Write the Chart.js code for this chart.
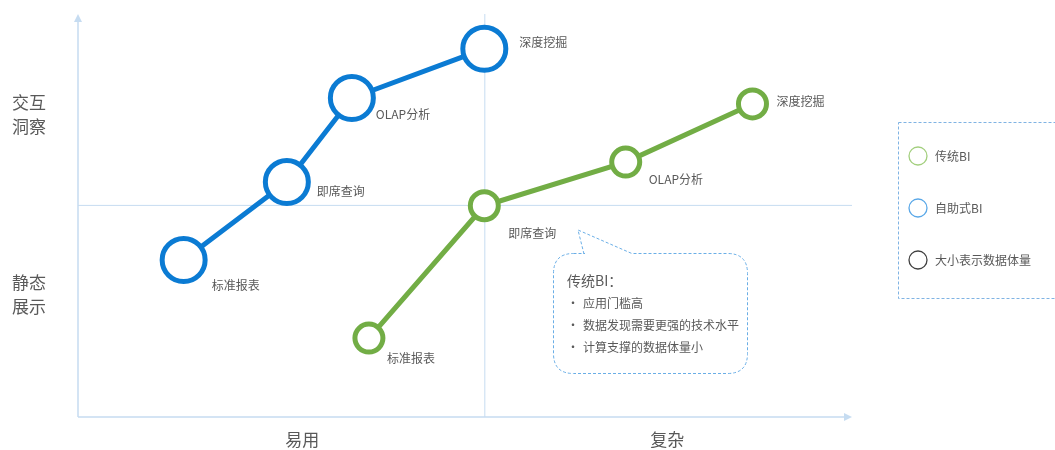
<!DOCTYPE html>
<html>
<head>
<meta charset="utf-8">
<script src="https://cdn.jsdelivr.net/npm/chart.js@4/dist/chart.umd.min.js"></script>
<style>
  html, body { margin: 0; padding: 0; background: #fff; }
  #wrap { width: 1055px; height: 450px; }
</style>
</head>
<body>
<div id="wrap"><canvas id="biChart" width="1055" height="450"></canvas></div>
<script>
'use strict';

// 阶段名称
var stages = ['标准报表', '即席查询', 'OLAP分析', '深度挖掘'];

// 自助式BI（蓝）
var selfX = [13.0, 25.7, 33.7, 50.0];
var selfY = [37.0, 55.4, 75.2, 86.8];

// 传统BI（绿）
var tradX = [35.8, 50.0, 67.4, 83.0];
var tradY = [18.6, 49.8, 60.1, 73.8];

// 象限标签
var xLabels = ['易用', '复杂'];
var xLabelPos = [27.6, 72.5];
var yLabels = [['静态', '展示'], ['交互', '洞察']];
var yLabelPos = [28.8, 71.2];
var midValue = 50;

var legendItems = ['传统BI', '自助式BI', '大小表示数据体量'];
var noteTitle = '传统BI：';
var noteItems = ['应用门槛高', '数据发现需要更强的技术水平', '计算支撑的数据体量小'];

var BLUE = '#0b7bd3';
var GREEN = '#72ad45';
var AXIS = '#c6dcf1';
var TEXT = '#595959';
var FONT = '"Noto Sans CJK SC", "Noto Sans", sans-serif';

function toPoints(xs, ys) {
  return xs.map(function (x, i) { return { x: x, y: ys[i] }; });
}

// ラベル位置（点からのずれ）
var selfLabelOffset = [[28, 25], [30, 9], [24, 16], [35, -6]];
var tradLabelOffset = [[18, 20], [24, 28], [23, 17], [24, -2]];

function arrow(ctx, x, y, dir) {
  ctx.beginPath();
  if (dir === 'up') {
    ctx.moveTo(x, y); ctx.lineTo(x - 4, y + 8); ctx.lineTo(x + 4, y + 8);
  } else {
    ctx.moveTo(x, y); ctx.lineTo(x - 8, y - 4); ctx.lineTo(x - 8, y + 4);
  }
  ctx.closePath();
  ctx.fill();
}

function roundRectPath(ctx, x, y, w, h, r) {
  ctx.moveTo(x + r, y);
  ctx.lineTo(x + w - r, y);
  ctx.quadraticCurveTo(x + w, y, x + w, y + r);
  ctx.lineTo(x + w, y + h - r);
  ctx.quadraticCurveTo(x + w, y + h, x + w - r, y + h);
  ctx.lineTo(x + r, y + h);
  ctx.quadraticCurveTo(x, y + h, x, y + h - r);
  ctx.lineTo(x, y + r);
  ctx.quadraticCurveTo(x, y, x + r, y);
}

var backgroundPlugin = {
  id: 'quadrants',
  beforeDatasetsDraw: function (chart) {
    var ctx = chart.ctx;
    var xs = chart.scales.x, ys = chart.scales.y;
    var a = chart.chartArea;
    var mx = xs.getPixelForValue(midValue);
    var my = ys.getPixelForValue(midValue);
    ctx.save();
    ctx.strokeStyle = AXIS;
    ctx.fillStyle = AXIS;
    // 中心線
    ctx.lineWidth = 1;
    ctx.beginPath();
    ctx.moveTo(mx + 0.5, a.top);
    ctx.lineTo(mx + 0.5, a.bottom);
    ctx.moveTo(a.left, my + 0.5);
    ctx.lineTo(a.right + 2, my + 0.5);
    ctx.stroke();
    // 軸
    ctx.lineWidth = 1.5;
    ctx.beginPath();
    ctx.moveTo(a.left, a.bottom);
    ctx.lineTo(a.left, a.top + 6);
    ctx.moveTo(a.left, a.bottom);
    ctx.lineTo(a.right - 4, a.bottom);
    ctx.stroke();
    arrow(ctx, a.left, a.top, 'up');
    arrow(ctx, a.right + 2, a.bottom, 'right');

    // 象限ラベル
    ctx.fillStyle = TEXT;
    ctx.font = '17px ' + FONT;
    ctx.textBaseline = 'middle';
    ctx.textAlign = 'center';
    xLabels.forEach(function (t, i) {
      ctx.fillText(t, xs.getPixelForValue(xLabelPos[i]), a.bottom + 23);
    });
    ctx.textAlign = 'left';
    yLabels.forEach(function (lines, i) {
      var cy = ys.getPixelForValue(yLabelPos[i]);
      ctx.fillText(lines[0], 12, cy - 12);
      ctx.fillText(lines[1], 12, cy + 12);
    });
    ctx.restore();
  },
  afterDatasetsDraw: function (chart) {
    var ctx = chart.ctx;
    ctx.save();
    ctx.fillStyle = TEXT;
    ctx.font = '12px ' + FONT;
    ctx.textBaseline = 'middle';
    ctx.textAlign = 'left';
    [selfLabelOffset, tradLabelOffset].forEach(function (offs, di) {
      var meta = chart.getDatasetMeta(di);
      meta.data.forEach(function (pt, i) {
        ctx.fillText(stages[i], pt.x + offs[i][0], pt.y + offs[i][1]);
      });
    });

    // 凡例ボックス
    ctx.strokeStyle = '#7fb3e3';
    ctx.lineWidth = 1;
    ctx.setLineDash([3, 2]);
    ctx.strokeRect(898.5, 122.5, 170, 176);
    ctx.setLineDash([]);
    var legendColors = ['#a3cf7e', '#5aa8e8', '#404040'];
    var legendY = [156, 208, 260];
    legendItems.forEach(function (t, i) {
      ctx.beginPath();
      ctx.strokeStyle = legendColors[i];
      ctx.lineWidth = 1.3;
      ctx.arc(918, legendY[i], 9, 0, Math.PI * 2);
      ctx.stroke();
      ctx.fillStyle = TEXT;
      ctx.fillText(t, 935, legendY[i]);
    });

    // 吹き出し
    ctx.strokeStyle = '#6aaee6';
    ctx.lineWidth = 1;
    ctx.setLineDash([3, 2]);
    ctx.beginPath();
    roundRectPath(ctx, 553.5, 253.5, 194, 120, 20);
    ctx.stroke();
    ctx.fillStyle = '#fff';
    ctx.fillRect(585, 251, 47, 5);
    ctx.beginPath();
    ctx.moveTo(584, 254);
    ctx.lineTo(578, 230);
    ctx.lineTo(633, 254);
    ctx.stroke();
    ctx.setLineDash([]);

    ctx.fillStyle = TEXT;
    ctx.font = '14px ' + FONT;
    ctx.fillText(noteTitle, 567, 281);
    ctx.font = '12px ' + FONT;
    noteItems.forEach(function (t, i) {
      var y = 303 + i * 22;
      ctx.fillText('•', 567, y);
      ctx.fillText(t, 583, y);
    });
    ctx.restore();
  }
};

var ctx = document.getElementById('biChart').getContext('2d');

var biChart = new Chart(ctx, {
  type: 'scatter',
  data: {
    datasets: [
      {
        label: '自助式BI',
        data: toPoints(selfX, selfY),
        showLine: true,
        borderColor: BLUE,
        borderWidth: 5,
        pointRadius: 21.5,
        pointHoverRadius: 21.5,
        pointBorderWidth: 5,
        pointBackgroundColor: '#fff',
        pointBorderColor: BLUE
      },
      {
        label: '传统BI',
        data: toPoints(tradX, tradY),
        showLine: true,
        borderColor: GREEN,
        borderWidth: 5,
        pointRadius: 14,
        pointHoverRadius: 14,
        pointBorderWidth: 5,
        pointBackgroundColor: '#fff',
        pointBorderColor: GREEN
      }
    ]
  },
  options: {
    responsive: false,
    animation: false,
    events: [],
    layout: { autoPadding: false, padding: { left: 78, right: 205, top: 14, bottom: 33 } },
    plugins: {
      legend: { display: false },
      tooltip: { enabled: false }
    },
    scales: {
      x: { type: 'linear', min: 0, max: 95, display: false },
      y: { type: 'linear', min: 0, max: 95, display: false }
    }
  },
  plugins: [backgroundPlugin]
});
</script>
</body>
</html>
